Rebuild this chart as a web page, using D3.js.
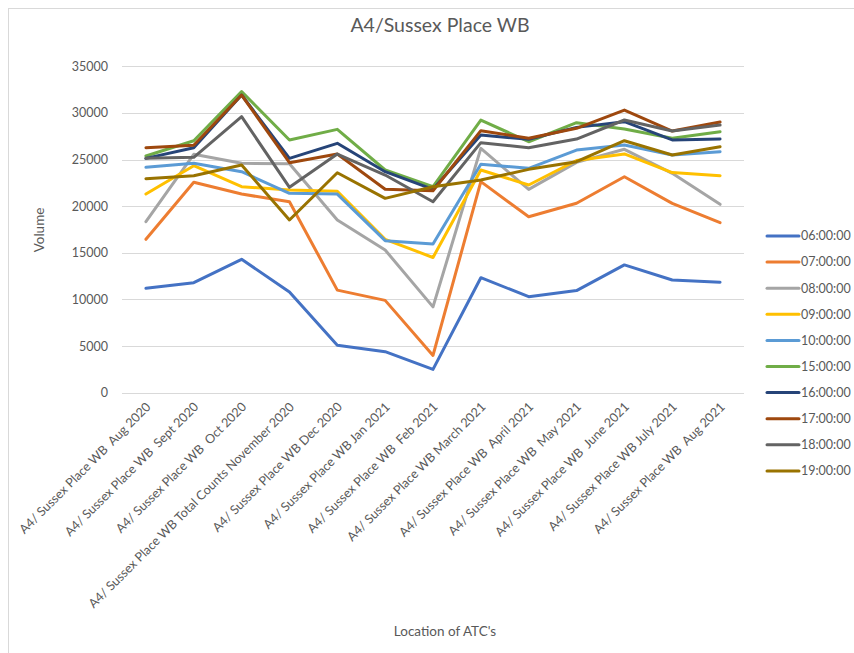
<!DOCTYPE html>
<html>
<head>
<meta charset="utf-8">
<script src="https://cdn.jsdelivr.net/npm/d3@7"></script>
<style>
  body { margin: 0; background: #fff; }
  svg { font-family: Lato, "Open Sans", sans-serif; }
</style>
</head>
<body>
<div id="chart"></div>
<script>
const categories = [
  "A4/ Sussex Place WB  Aug 2020",
  "A4/ Sussex Place WB  Sept 2020",
  "A4/ Sussex Place WB  Oct 2020",
  "A4/ Sussex Place WB Total Counts November 2020",
  "A4/ Sussex Place WB Dec 2020",
  "A4/ Sussex Place WB Jan 2021",
  "A4/ Sussex Place WB  Feb 2021",
  "A4/ Sussex Place WB March 2021",
  "A4/ Sussex Place WB  April 2021",
  "A4/ Sussex Place WB  May 2021",
  "A4/ Sussex Place WB  June 2021",
  "A4/ Sussex Place WB July 2021",
  "A4/ Sussex Place WB  Aug 2021"
];

const seriesNames = ["06:00:00", "07:00:00", "08:00:00", "09:00:00", "10:00:00",
  "15:00:00", "16:00:00", "17:00:00", "18:00:00", "19:00:00"];

const h06 = [11200, 11800, 14300, 10800, 5100, 4400, 2500, 12330, 10300, 10950, 13700, 12080, 11850];
const h07 = [16450, 22560, 21300, 20480, 11000, 9900, 4000, 22630, 18870, 20310, 23160, 20300, 18230];
const h08 = [18340, 25560, 24600, 24550, 18520, 15300, 9200, 26200, 21800, 24700, 26100, 23520, 20200];
const h09 = [21300, 24340, 22090, 21740, 21600, 16450, 14500, 23880, 22270, 24900, 25600, 23600, 23270];
const h10 = [24170, 24600, 23700, 21380, 21300, 16300, 15940, 24490, 24060, 26020, 26560, 25490, 25840];
const h15 = [25380, 27020, 32280, 27100, 28240, 23880, 22090, 29240, 26910, 28950, 28280, 27280, 27990];
const h16 = [25130, 26270, 31920, 25130, 26740, 23700, 21810, 27630, 27170, 28450, 29060, 27100, 27200];
const h17 = [26270, 26530, 31920, 24660, 25590, 21810, 21660, 28100, 27280, 28350, 30310, 28060, 29030];
const h18 = [25130, 25240, 29600, 22020, 25590, 23340, 20480, 26810, 26270, 27200, 29240, 28060, 28700];
const h19 = [22950, 23270, 24420, 18520, 23590, 20840, 22090, 22810, 23950, 24770, 27020, 25490, 26380];

const yTicks = [0, 5000, 10000, 15000, 20000, 25000, 30000, 35000];

const colors = ["#4472C4", "#ED7D31", "#A5A5A5", "#FFC000", "#5B9BD5",
  "#70AD47", "#264478", "#9E480E", "#636363", "#997300"];

const seriesValues = [h06, h07, h08, h09, h10, h15, h16, h17, h18, h19];
const series = seriesNames.map((name, i) => ({ name, values: seriesValues[i], color: colors[i] }));

const width = 854, height = 653;
const plot = { left: 122, right: 744, top: 66.3, bottom: 392.7 };

const svg = d3.select("#chart").append("svg")
  .attr("width", width)
  .attr("height", height);

// chart border
svg.append("rect")
  .attr("x", 8.5).attr("y", 8.5)
  .attr("width", 900).attr("height", 700)
  .attr("fill", "#fff")
  .attr("stroke", "#d9d9d9")
  .attr("stroke-width", 1);

const x = d3.scalePoint()
  .domain(categories)
  .range([plot.left, plot.right])
  .padding(0.5);

const y = d3.scaleLinear()
  .domain([0, 35000])
  .range([plot.bottom, plot.top]);

// gridlines
svg.append("g")
  .selectAll("line")
  .data(yTicks)
  .join("line")
  .attr("x1", plot.left).attr("x2", plot.right)
  .attr("y1", d => Math.round(y(d)) + 0.5)
  .attr("y2", d => Math.round(y(d)) + 0.5)
  .attr("stroke", "#d9d9d9")
  .attr("stroke-width", 1);

// y axis labels
const yAxis = d3.axisLeft(y).tickValues(yTicks).tickFormat(d3.format("d")).tickSize(0).tickPadding(14);
const gy = svg.append("g")
  .attr("transform", `translate(${plot.left},0)`)
  .call(yAxis);
gy.select(".domain").remove();
gy.selectAll("text")
  .attr("fill", "#595959")
  .style("font-size", "12.5px")
  .style("font-family", "Lato, 'Open Sans', sans-serif");

// x axis labels
const xAxis = d3.axisBottom(x).tickSize(0).tickPadding(0);
const gx = svg.append("g")
  .attr("transform", `translate(0,${plot.bottom})`)
  .call(xAxis);
gx.select(".domain").remove();
gx.selectAll(".tick text")
  .attr("fill", "#595959")
  .style("font-size", "12.6px")
  .style("font-family", "Lato, 'Open Sans', sans-serif")
  .style("white-space", "pre")
  .attr("text-anchor", "end")
  .attr("y", 0).attr("dy", 0)
  .attr("transform", "translate(5,15) rotate(-45)");

// lines
const line = d3.line()
  .x((d, i) => x(categories[i]))
  .y(d => y(d));

svg.append("g")
  .selectAll("path")
  .data(series)
  .join("path")
  .attr("d", d => line(d.values))
  .attr("fill", "none")
  .attr("stroke", d => d.color)
  .attr("stroke-width", 3)
  .attr("stroke-linejoin", "round")
  .attr("stroke-linecap", "round");

// title
svg.append("text")
  .attr("x", 440).attr("y", 32)
  .attr("text-anchor", "middle")
  .attr("fill", "#595959")
  .style("font-size", "19.5px")
  .text("A4/Sussex Place WB");

// axis titles
svg.append("text")
  .attr("transform", "translate(44,230) rotate(-90)")
  .attr("text-anchor", "middle")
  .attr("fill", "#595959")
  .style("font-size", "13.5px")
  .text("Volume");

svg.append("text")
  .attr("x", 445).attr("y", 636)
  .attr("text-anchor", "middle")
  .attr("fill", "#595959")
  .style("font-size", "13.5px")
  .text("Location of ATC's");

// legend
const legend = svg.append("g")
  .selectAll("g")
  .data(series)
  .join("g")
  .attr("transform", (d, i) => `translate(767,${236 + i * 26.1})`);

legend.append("line")
  .attr("x1", 0).attr("x2", 32)
  .attr("stroke", d => d.color)
  .attr("stroke-width", 3)
  .attr("stroke-linecap", "round");

legend.append("text")
  .attr("x", 34).attr("dy", "0.35em")
  .attr("fill", "#595959")
  .style("font-size", "12.5px")
  .text(d => d.name);
</script>
</body>
</html>
